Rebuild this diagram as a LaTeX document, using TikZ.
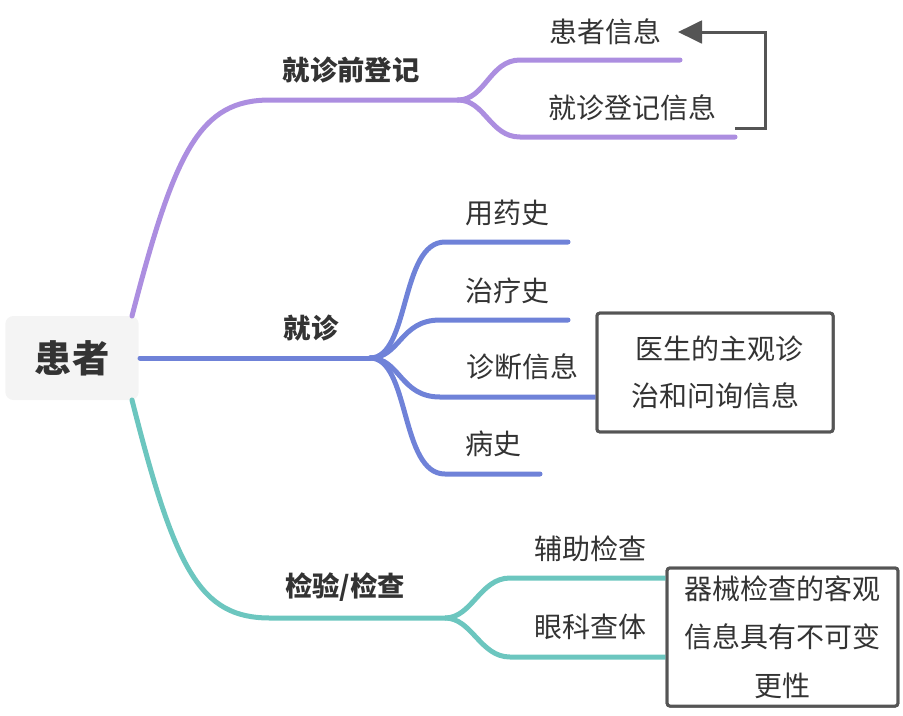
\documentclass[tikz,border=0pt]{standalone}
\usepackage{fontspec}
\setmainfont{Noto Sans CJK SC}
\usetikzlibrary{arrows.meta}
\definecolor{purp}{HTML}{AC8EE0}
\definecolor{blu}{HTML}{6F82D8}
\definecolor{teal2}{HTML}{6CC6BF}
\definecolor{rootgray}{HTML}{F4F4F4}
\definecolor{txt}{HTML}{333333}
\definecolor{boxgray}{HTML}{555555}
\tikzset{
  rootbox/.style={fill=rootgray, rounded corners=6pt, minimum width=100pt, minimum height=63pt, inner sep=0pt, font=\fontsize{28}{32}\selectfont\bfseries, text=txt},
  lvlone/.style={font=\fontsize{20.5}{24}\selectfont\bfseries, text=txt, inner sep=0pt},
  lvltwo/.style={font=\fontsize{21}{25}\selectfont, text=txt, inner sep=0pt},
  notebox/.style={draw=boxgray, line width=2.25pt, rounded corners=2pt, fill=white, align=center, text=txt, inner sep=0pt},
  branch/.style={line width=3.75pt, line cap=round},
  backarrow/.style={draw=boxgray, line width=2.25pt, -{Triangle[length=18pt,width=17pt]}}
}
\begin{document}
\begin{tikzpicture}[x=0.75pt,y=-0.75pt]
\useasboundingbox (0,0) rectangle (903,715);

% root
\node[rootbox] (root) at (72,358) {患者};

% coordinates
\coordinate (rNE) at (132,316);
\coordinate (rE) at (140,358);
\coordinate (rSE) at (132,400);

\coordinate (p1) at (458,100);
\coordinate (pe1) at (680,60);
\coordinate (pe2) at (735,137);

\coordinate (b1) at (370,358);
\coordinate (be1) at (568,242);
\coordinate (be2) at (568,320);
\coordinate (be4) at (540,474);

\coordinate (t1) at (445,618);

% notes boxes (placement)
\node[notebox, minimum width=177pt, minimum height=89pt, font=\fontsize{21}{35}\selectfont] (note1) at (715,372.5) {\hspace*{6pt}医生的主观诊\\治和问询信息};
\node[notebox, minimum width=173pt, minimum height=103.5pt, font=\fontsize{21}{36.5}\selectfont] (note2) at (782.5,637) {器械检查的客观\\信息具有不可变\\更性};

% purple branch
\draw[branch, purp] (rNE) .. controls (175,150) and (200,100) .. (270,100) -- (p1);
\draw[branch, purp] (p1) .. controls (485,100) and (490,60) .. (520,60) -- (pe1);
\draw[branch, purp] (p1) .. controls (485,100) and (490,137) .. (520,137) -- (pe2);

% blue branch
\draw[branch, blu] (rE) -- (b1);
\draw[branch, blu] (b1) .. controls (410,358) and (400,242) .. (445,242) -- (be1);
\draw[branch, blu] (b1) .. controls (400,358) and (400,320) .. (440,320) -- (be2);
\draw[branch, blu, line cap=butt] (b1) .. controls (400,358) and (400,397) .. (440,397) -- (note1.west |- 0,397);
\draw[branch, blu] (b1) .. controls (410,358) and (400,474) .. (445,474) -- (be4);

% teal branch
\draw[branch, teal2] (rSE) .. controls (175,570) and (200,618) .. (270,618) -- (t1);
\draw[branch, teal2, line cap=butt] (t1) .. controls (472,618) and (480,578) .. (510,578) -- (note2.west |- 0,578);
\draw[branch, teal2, line cap=butt] (t1) .. controls (472,618) and (480,657) .. (510,657) -- (note2.west |- 0,657);

% redraw boxes on top of the branch ends
\node[notebox, minimum width=177pt, minimum height=89pt, font=\fontsize{21}{35}\selectfont] at (note1) {\hspace*{6pt}医生的主观诊\\治和问询信息};
\node[notebox, minimum width=173pt, minimum height=103.5pt, font=\fontsize{21}{36.5}\selectfont] at (note2) {器械检查的客观\\信息具有不可变\\更性};

% labels
\node[lvlone] (l1) at (351,70) {就诊前登记};
\node[lvltwo] (l11) at (605,32) {患者信息};
\node[lvltwo] (l12) at (632,108) {就诊登记信息};
\node[lvlone] (l2) at (311,328) {就诊};
\node[lvltwo] (l21) at (507,213) {用药史};
\node[lvltwo] (l22) at (507,291) {治疗史};
\node[lvltwo] (l23) at (522,367) {诊断信息};
\node[lvltwo] (l24) at (493,444) {病史};
\node[lvlone] (l3) at (345,587) {检验/检查};
\node[lvltwo] (l31) at (590,549) {辅助检查};
\node[lvltwo] (l32) at (590,627) {眼科查体};

% arrow
\coordinate (as) at (735,128);
\coordinate (ac) at (765,128);
\coordinate (atip) at (678,32);
\draw[backarrow] (as) -- (ac) |- (atip);
\end{tikzpicture}
\end{document}
